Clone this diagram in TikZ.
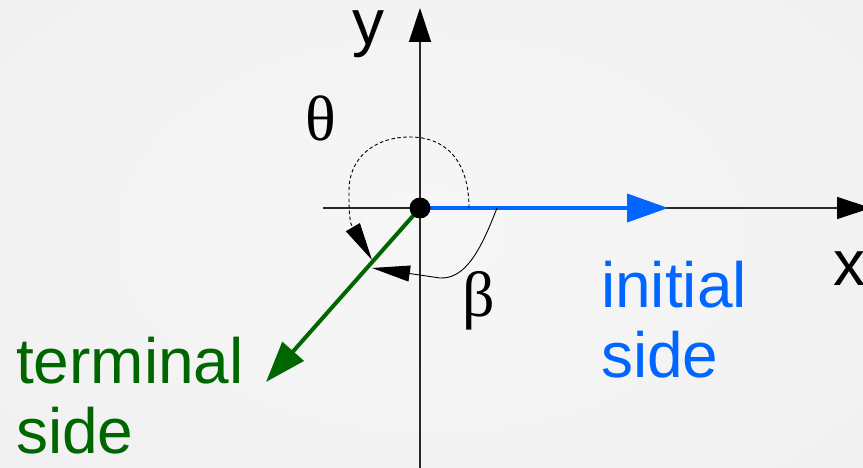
\documentclass[tikz,border=0pt]{standalone}
\usepackage{fontspec}
\setmainfont{Liberation Sans}
\newfontfamily\greekserif{Liberation Serif}
\usetikzlibrary{arrows.meta}
\definecolor{bgc}{RGB}{245,245,245}
\definecolor{bgout}{RGB}{238,238,238}
\definecolor{axisc}{RGB}{40,40,40}
\definecolor{initblue}{RGB}{0,102,255}
\definecolor{termgreen}{RGB}{0,102,0}
\tikzset{
  axisline/.style={draw=axisc, line width=1.2pt, -{Triangle[length=34pt,width=22pt,color=black,fill=black]}},
  sideline/.style={line width=4pt, -{Triangle[length=41pt,width=28pt]}},
  anglearc/.style={draw=black, line width=0.9pt, -{Triangle[length=38pt,width=16pt]}},
  bigtext/.style={font=\fontsize{64}{70}\selectfont, inner sep=0pt, align=left},
  greeklabel/.style={font=\greekserif\fontsize{64}{70}\selectfont, inner sep=0pt},
}
\begin{document}
\begin{tikzpicture}[x=1pt,y=-1pt]
  \useasboundingbox (0,0) rectangle (863,468);
  \shade[inner color=bgc!60!white, outer color=bgout] (-100,-100) rectangle (963,568);
  \fill[bgc, opacity=0.5] (0,0) rectangle (863,468);
  % named points
  \coordinate (O) at (420,208);
  \coordinate (ybot) at (420,468);
  \coordinate (ytip) at (420,8);
  \coordinate (xleft) at (323,208);
  \coordinate (xtip) at (871,208);
  \coordinate (btip) at (668,208);
  \coordinate (gtip) at (266,382);
  % axes
  \draw[axisline] (ybot) -- (ytip);
  \draw[axisline] (xleft) -- (xtip);
  % sides
  \draw[sideline, draw=initblue, fill=initblue] (O) -- (btip);
  \draw[sideline, draw=termgreen, fill=termgreen] (O) -- (gtip);
  % theta arc (dashed)
  \coordinate (thstart) at (469,208);
  \coordinate (thend) at (372,260);
  \draw[anglearc, dash pattern=on 3.5pt off 2.5pt]
    (thstart) .. controls (469,160) and (445,137) .. (410,137)
    .. controls (372,137) and (349,160) .. (349,190)
    .. controls (349,205) and (349,215) .. (351,224) -- (thend);
  % beta arc
  \coordinate (bstart) at (497,208);
  \coordinate (bend) at (372,268);
  \draw[anglearc]
    (bstart) .. controls (480,252) and (465,279) .. (440,278) -- (bend);
  % vertex dot
  \fill[black] (O) circle (10.5pt);
  % labels
  \node[bigtext, anchor=base] (ylab) at (368,45) {y};
  \node[bigtext, anchor=base] (xlab) at (849,285) {x};
  \node[greeklabel] (theta) at (321,118) {θ};
  \node[greeklabel] (beta) at (479,301) {β};
  \node[bigtext, text=initblue, anchor=north west] (init) at (601,261) {initial\\side};
  \node[bigtext, text=termgreen, anchor=north west] (term) at (16,337) {terminal\\side};
\end{tikzpicture}
\end{document}
